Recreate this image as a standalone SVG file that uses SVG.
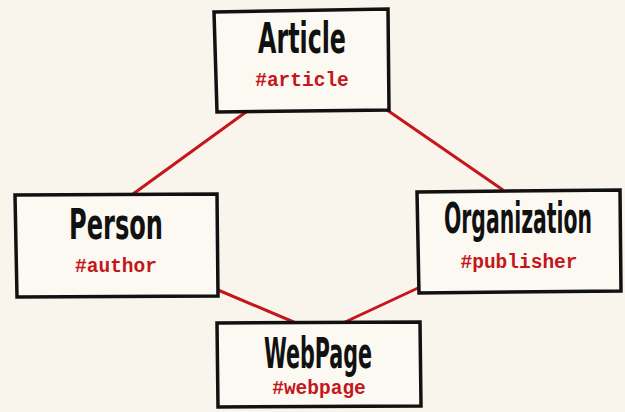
<svg xmlns="http://www.w3.org/2000/svg" width="625" height="412" viewBox="0 0 625 412">
<style>
.bg{fill:#f9f5ec}
.box{fill:#fcf9f2;stroke:#111;stroke-width:3.5;stroke-linejoin:miter}
.title{font-family:"DejaVu Sans Condensed","DejaVu Sans","Liberation Sans",sans-serif;font-weight:bold;font-stretch:condensed;font-size:42px;fill:#111;text-anchor:middle}
.id{font-family:"Liberation Mono","DejaVu Sans Mono",monospace;font-weight:bold;font-size:19.5px;fill:#c4161c;text-anchor:middle}
.edge{stroke:#c4161c;stroke-width:3;fill:none}
</style>
<rect class="bg" x="0" y="0" width="625" height="412"/>
<g id="connectors">
<line class="edge" x1="246" y1="112" x2="133" y2="194"/>
<line class="edge" x1="387" y1="110" x2="503" y2="190"/>
<line class="edge" x1="218" y1="290" x2="296" y2="323"/>
<line class="edge" x1="418" y1="288" x2="343" y2="323"/>
</g>
<g id="article">
<polygon class="box" points="214,12 388,9 389,110 217,112"/>
<text class="title" x="302" y="53" textLength="88" lengthAdjust="spacingAndGlyphs">Article</text>
<text class="id" x="302" y="86">#article</text>
</g>
<g id="person">
<polygon class="box" points="15,195 217,194 218,296 17,297"/>
<text class="title" x="116" y="239" textLength="94" lengthAdjust="spacingAndGlyphs">Person</text>
<text class="id" x="116" y="272">#author</text>
</g>
<g id="organization">
<polygon class="box" points="417,192 620,190 621,291 419,293"/>
<text class="title" x="518" y="233" textLength="148" lengthAdjust="spacingAndGlyphs">Organization</text>
<text class="id" x="519" y="268">#publisher</text>
</g>
<g id="webpage">
<polygon class="box" points="217,323 420,322 421,406 218,407"/>
<text class="title" x="318" y="368" textLength="108" lengthAdjust="spacingAndGlyphs">WebPage</text>
<text class="id" x="319" y="394">#webpage</text>
</g>
</svg>
